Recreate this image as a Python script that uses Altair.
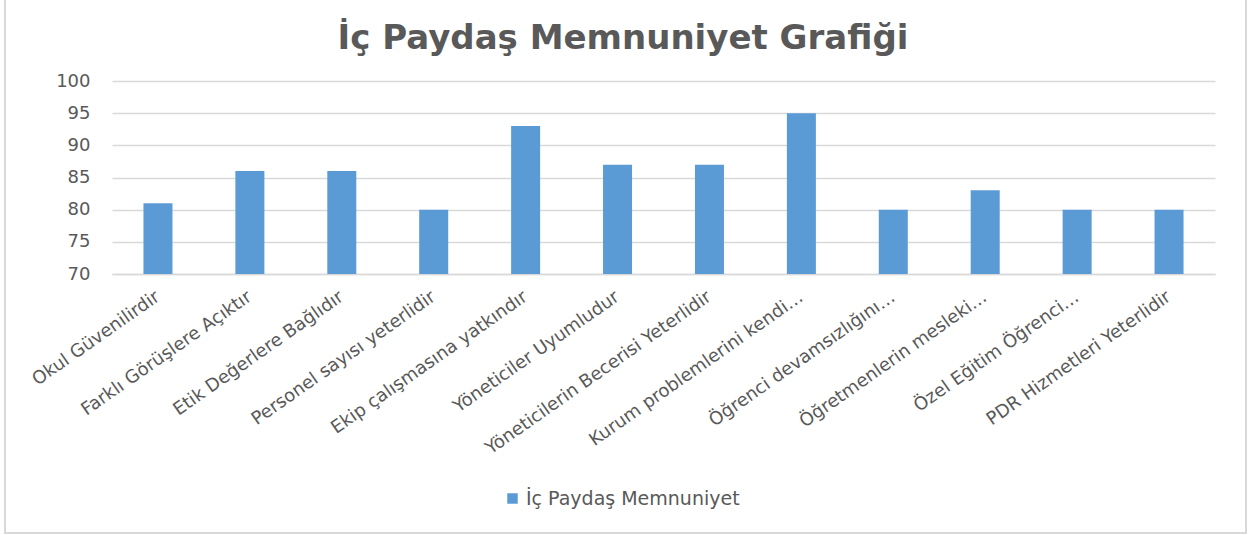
import altair as alt
import pandas as pd

categories = [
    "Okul Güvenilirdir",
    "Farklı Görüşlere Açıktır",
    "Etik Değerlere Bağlıdır",
    "Personel sayısı yeterlidir",
    "Ekip çalışmasına yatkındır",
    "Yöneticiler Uyumludur",
    "Yöneticilerin Becerisi Yeterlidir",
    "Kurum problemlerini kendi…",
    "Öğrenci devamsızlığını…",
    "Öğretmenlerin mesleki…",
    "Özel Eğitim Öğrenci…",
    "PDR Hizmetleri Yeterlidir",
]
values = [81, 86, 86, 80, 93, 87, 87, 95, 80, 83, 80, 80]
series_name = "İç Paydaş Memnuniyet"
chart_title = "İç Paydaş Memnuniyet Grafiği"
y_ticks = [70, 75, 80, 85, 90, 95, 100]

df = pd.DataFrame({"cat": categories, "val": values, "series": [series_name] * len(categories)})

FONT = "DejaVu Sans"
GREY = "#595959"

bars = alt.Chart(df).mark_bar(size=29, clip=True).encode(
    x=alt.X("cat:N", sort=categories, title=None,
            scale=alt.Scale(paddingInner=0, paddingOuter=0),
            axis=alt.Axis(labelAngle=-35, labelAlign="right", labelBaseline="middle",
                          labelFontSize=18, labelColor=GREY, labelFont=FONT,
                          labelLimit=400, labelPadding=21, ticks=False,
                          domainColor="#d9d9d9", domainWidth=1.5, grid=False)),
    y=alt.Y("val:Q", title=None,
            scale=alt.Scale(domain=[70, 100], nice=False, zero=False),
            axis=alt.Axis(values=y_ticks, labelFontSize=18, labelColor=GREY, labelFont=FONT,
                          labelPadding=22, ticks=False, domain=False,
                          grid=True, gridColor="#d9d9d9", gridWidth=1.5)),
    color=alt.Color("series:N", title=None,
                    scale=alt.Scale(range=["#5b9bd5"]),
                    legend=alt.Legend(orient="none", legendX=391, legendY=408,
                                      symbolType="square", symbolSize=110,
                                      symbolStrokeWidth=0, labelLimit=400,
                                      labelFontSize=19, labelColor=GREY, labelFont=FONT)),
)

title_df = pd.DataFrame({"t": [chart_title]})
title = alt.Chart(title_df).mark_text(
    font=FONT, fontSize=34, fontWeight="bold", color=GREY,
    align="center", baseline="alphabetic"
).encode(
    text="t:N",
    x=alt.value(511),
    y=alt.value(-32),
)

border = alt.Chart(alt.Data(values=[{}])).mark_rect(
    fill=None, stroke="#d9d9d9", strokeWidth=2
).encode(
    x=alt.value(-107), x2=alt.value(1134),
    y=alt.value(-90), y2=alt.value(452),
)

chart = alt.layer(bars, title, border).properties(
    width=1103,
    height=193,
    autosize=alt.AutoSizeParams(type="none"),
    padding={"left": 112, "top": 81, "right": 34, "bottom": 261},
).configure_view(stroke=None)

chart.save("out.html", embed_options={"renderer": "svg", "actions": False})
